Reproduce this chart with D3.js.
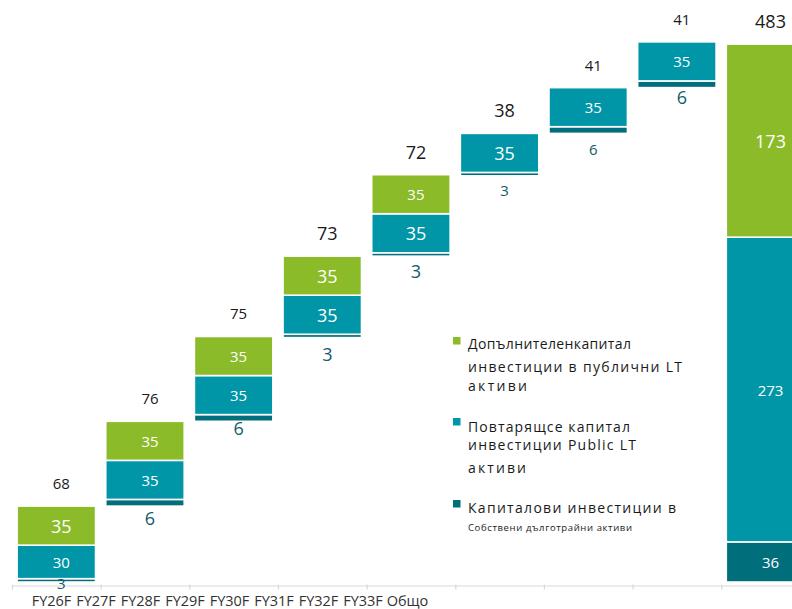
<!DOCTYPE html>
<html>
<head>
<meta charset="utf-8">
<script src="https://cdn.jsdelivr.net/npm/d3@7/dist/d3.min.js"></script>
<style>
  html, body { margin: 0; padding: 0; background: #fff; }
  svg { display: block; font-family: "Open Sans", "Noto Sans", sans-serif; }
</style>
</head>
<body>
<svg id="chart" width="792" height="609"></svg>
<script>
// Capex waterfall: categories and series values
const categories = ["FY26F", "FY27F", "FY28F", "FY29F", "FY30F", "FY31F", "FY32F", "FY33F", "Общо"];
const ownAssets  = [3, 6, 6, 3, 3, 3, 6, 6, 36];            // капиталови инвестиции в собствени ДА
const recurring  = [30, 35, 35, 35, 35, 35, 35, 35, 273];   // повтарящ се капитал
const additional = [35, 35, 35, 35, 35, 0, 0, 0, 173];      // допълнителен капитал
const totals     = [68, 76, 75, 73, 72, 38, 41, 41, 483];

const legendEntries = [
  ["Допълнителенкапитал", "инвестиции в публични LT", "активи"],
  ["Повтарящсе капитал", "инвестиции Public LT", "активи"],
  ["Капиталови инвестиции в", "Собствени дълготрайни активи"]
];

// Label styling (font sizes per label, small-segment label offsets)
const sizeOwn   = [15, 18, 18, 18, 18, 15, 15, 18, 15];
const sizeRec   = [15, 15, 15, 18, 18, 18, 15, 15, 15];
const sizeAdd   = [18, 15, 15, 18, 15, 0, 0, 0, 18];
const sizeTotal = [15, 15, 15, 18, 18, 18, 15, 15, 18];
const ownLabelDy = [1, 12, 7, 16, 15, 14, 16, 9, 0];

const colors = { additional: "#8bbb28", recurring: "#0096a7", own: "#006f7b" };

const svg = d3.select("#chart");

const n = categories.length;
const step = 88.65;
const x = d3.scaleBand().domain(categories)
  .range([12, 12 + step * n]).paddingInner(0.115).paddingOuter(0.0575);
const y = d3.scaleLinear().domain([0, 483]).range([582, 43]);

// Waterfall bases: each forecast year starts where the previous one ended; the total starts at 0
const bases = [];
let acc = 0;
categories.forEach((c, i) => {
  if (i === n - 1) { bases.push(0); }
  else { bases.push(acc); acc += totals[i]; }
});

// Axis with ticks on the category boundaries
const edge = d3.scaleLinear().domain([0, n]).range([12, 12 + step * n]);
const axisG = svg.append("g").attr("transform", "translate(0,585.5)")
  .call(d3.axisBottom(edge).tickValues(d3.range(0, n + 1)).tickFormat("").tickSize(4).tickSizeOuter(0));
axisG.select(".domain").attr("stroke", "#d9d9d9").attr("stroke-width", 1.2);
axisG.selectAll(".tick line").attr("stroke", "#d9d9d9").attr("stroke-width", 1.2).attr("y1", -1);

// Category labels row
const lbl = d3.scalePoint().domain(categories).range([51, 407]);
const lblG = svg.append("g").attr("transform", "translate(0,596)")
  .call(d3.axisBottom(lbl).tickSize(0).tickPadding(0));
lblG.select(".domain").remove();
lblG.selectAll("text").attr("font-size", 14.5).attr("fill", "#333")
  .attr("font-family", "'Open Sans', sans-serif").attr("dy", "0.71em");

// Stacked segments
const series = [
  { key: "own", vals: ownAssets },
  { key: "recurring", vals: recurring },
  { key: "additional", vals: additional }
];
const barsG = svg.append("g");
categories.forEach((c, i) => {
  let cum = bases[i];
  series.forEach(s => {
    const v = s.vals[i];
    if (!v) return;
    const y0 = y(cum), y1 = y(cum + v);
    barsG.append("rect")
      .attr("x", x(c)).attr("width", x.bandwidth())
      .attr("y", y1).attr("height", y0 - y1)
      .attr("fill", colors[s.key])
      .attr("stroke", "#fff").attr("stroke-width", 1.6);
    s.pos = s.pos || [];
    s.pos[i] = [y1, y0];
    cum += v;
  });
});

// Value labels
const labelsG = svg.append("g").attr("text-anchor", "middle").attr("dominant-baseline", "central");
const lx = c => x(c) + x.bandwidth() / 2 + 5;
categories.forEach((c, i) => {
  // own-asset segment: below the bar when thin, inside on the total bar
  const po = series[0].pos[i];
  if (i === n - 1) {
    labelsG.append("text").attr("x", lx(c)).attr("y", (po[0] + po[1]) / 2)
      .attr("fill", "#fff").attr("font-size", sizeOwn[i]).text(ownAssets[i]);
  } else {
    labelsG.append("text").attr("x", lx(c)).attr("y", po[1] + ownLabelDy[i])
      .attr("fill", "#135b6b").attr("font-size", sizeOwn[i]).text(ownAssets[i]);
  }
  const pr = series[1].pos[i];
  labelsG.append("text").attr("x", lx(c)).attr("y", (pr[0] + pr[1]) / 2)
    .attr("fill", "#fff").attr("font-size", sizeRec[i]).text(recurring[i]);
  if (additional[i]) {
    const pa = series[2].pos[i];
    labelsG.append("text").attr("x", lx(c)).attr("y", (pa[0] + pa[1]) / 2)
      .attr("fill", "#fff").attr("font-size", sizeAdd[i]).text(additional[i]);
  }
  const top = d3.min(series.filter(s => s.pos[i]).map(s => s.pos[i][0]));
  labelsG.append("text").attr("x", lx(c)).attr("y", top - 23)
    .attr("fill", "#1a1a1a").attr("font-size", sizeTotal[i]).text(totals[i]);
});

// Legend
const legendColors = [colors.additional, colors.recurring, colors.own];
const legendSquareY = [337, 418, 500];
const legendBaselines = [[349, 372, 391], [432, 450, 473], [513, 531]];
const legendWidths = [[163, 214, 59], [162, 168, 58], [208, 164]];
const legendSizes = [[14, 14, 14], [14, 14, 14], [14, 9.5]];
const legG = svg.append("g");
legendEntries.forEach((lines, k) => {
  legG.append("rect").attr("x", 453).attr("y", legendSquareY[k])
    .attr("width", 7.5).attr("height", 7.5).attr("fill", legendColors[k]);
  lines.forEach((t, j) => {
    legG.append("text").attr("x", 468).attr("y", legendBaselines[k][j])
      .attr("font-size", legendSizes[k][j]).attr("fill", "#1a1a1a")
      .attr("textLength", legendWidths[k][j]).attr("lengthAdjust", "spacing")
      .text(t);
  });
});
</script>
</body>
</html>
